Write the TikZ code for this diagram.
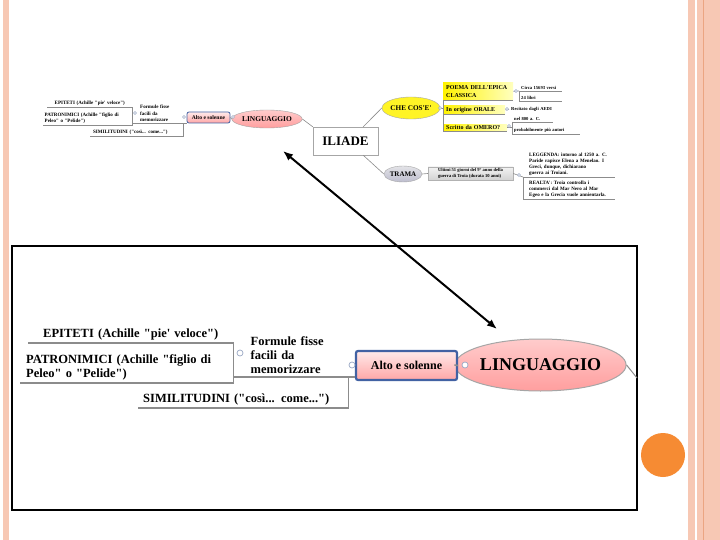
\documentclass[tikz,border=0pt]{standalone}
\usepackage{fontspec}
\setmainfont{Liberation Serif}[Ligatures=TeXOff]
\usetikzlibrary{
arrows.meta,
shapes.geometric,
shadows
}
\definecolor{folie_rosa}{HTML}{F7C8B4}
\definecolor{folie_linie}{HTML}{EBA582}
\definecolor{folie_orange}{HTML}{F68B33}
\definecolor{ast_grau}{HTML}{8C8C8C}
\definecolor{knopf_blau}{HTML}{9AA8C4}
\definecolor{rand_blau}{HTML}{4262A3}

\begin{document}
\begin{tikzpicture}
[x=1pt, y=-1pt,
leaf_big/.style ={anchor=south west, align=left, inner xsep=6pt, inner ysep=3pt, font=\fontsize{12.5}{14}\selectfont\bfseries},
leaf_small/.style ={anchor=south west, align=left, inner xsep=3pt, inner ysep=1.2pt, font=\fontsize{5}{6.5}\selectfont\bfseries},
leaf_tiny/.style ={leaf_small, inner xsep=2pt, font=\fontsize{4.6}{6}\selectfont\bfseries},
topic_yellow/.style ={leaf_small, font=\fontsize{6}{7.5}\selectfont\bfseries, left color=yellow!90!orange, right color=yellow!25},
box_alto/.style ={rectangle, draw=rand_blau, rounded corners=2, top color=red!8, bottom color=red!35, align=center},
ellipse_ling/.style ={ellipse, draw=gray!70, top color=red!20, bottom color=red!38, inner sep=0},
ellipse_che/.style ={ellipse, draw=gray!70, fill=yellow!85!white, inner sep=0},
ellipse_trama/.style ={ellipse, draw=gray!70, top color=blue!8!gray!20, bottom color=blue!15!gray!45, inner sep=0},
box_iliade/.style ={rectangle, draw=gray!70, fill=white, drop shadow={opacity=0.2, shadow xshift=1pt, shadow yshift=-1pt}},
box_trama/.style ={rectangle, draw=gray!60, top color=gray!10, bottom color=gray!35, align=left, inner sep=1.5pt, font=\fontsize{4.6}{5.8}\selectfont\bfseries},
toggle/.style ={circle, draw=knopf_blau, fill=white, inner sep=0, minimum size=6pt, line width=0.7pt},
toggle_small/.style ={toggle, minimum size=3pt, line width=0.4pt},
line_big/.style ={draw=ast_grau, line width=1.6pt},
line_small/.style ={draw=ast_grau, line width=0.6pt},
zoom_arrow/.style ={arrows={Latex[length=10pt,width=8pt]-Latex[length=10pt,width=8pt]}, line width=2pt}
]

\useasboundingbox (0,0) rectangle (720,540);

%%%Folie%%%%
\fill[white] (0,0) rectangle (720,540);
\fill[folie_rosa] (3,0) rectangle (9,540);
\fill[folie_rosa] (688,0) rectangle (720,540);
\fill[white] (694.5,0) rectangle (697,540);
\draw[folie_linie, line width=1pt] (703,0) -- (703,540);
\fill[folie_orange] (663,455) circle (22pt);

%%%kleine Mindmap%%%%
\node[box_iliade, minimum width=65pt, minimum height=28pt, font=\fontsize{13}{15}\selectfont\bfseries] (iliade) at (345.5,141) {ILIADE};
\node[ellipse_ling, minimum width=60pt, minimum height=18pt, font=\fontsize{7.4}{9}\selectfont\bfseries] (lingS) at (267,119) {LINGUAGGIO};
\node[box_alto, line width=0.8pt, minimum width=43pt, minimum height=11pt, inner sep=0, font=\fontsize{5.6}{7}\selectfont\bfseries] (altoS) at (208.5,117.5) {Alto e solenne};
\node[ellipse_che, minimum width=50pt, minimum height=22pt, font=\fontsize{7.2}{9}\selectfont\bfseries] (cheS) at (411,108) {CHE COS'E'};
\node[ellipse_trama, minimum width=38pt, minimum height=16pt, font=\fontsize{7}{9}\selectfont\bfseries] (tramaS) at (403,174) {TRAMA};

% links
\node[leaf_small, text width=79pt, align=center] (epiS) at (47,107) {EPITETI (Achille "pie' veloce")};
\node[leaf_small, inner xsep=1.5pt, text width=86pt] (patS) at (43,125) {PATRONIMICI (Achille "figlio di\\Peleo" o "Pelide")};
\node[leaf_small, inner xsep=8pt, text width=35pt] (formS) at (132,123) {Formule fisse\\facili da\\memorizzare};
\node[leaf_small, text width=87pt] (simiS) at (90,136) {SIMILITUDINI ("così... come...")};

% CHE COS'E'
\node[topic_yellow, text width=64pt, minimum height=17pt] (poema) at (443,100) {POEMA DELL'EPICA\\CLASSICA};
\node[topic_yellow, text width=56pt] (origine) at (443,114) {In origine ORALE};
\node[topic_yellow, text width=58pt] (scritto) at (443,131) {Scritto da OMERO?};
\node[leaf_tiny, text width=39pt] (versi) at (519,91) {Circa 15693 versi};
\node[leaf_tiny, text width=39pt] (libri) at (519,101) {24 libri};
\node[leaf_tiny, text width=48pt] (recit) at (509,113) {Recitato dagli AEDI};
\node[leaf_tiny, text width=37pt] (nel) at (512,122) {nel 800 a. C.};
\node[leaf_tiny, text width=64pt] (prob) at (512,134) {probabilmente più autori};

% TRAMA
\node[box_trama, minimum width=85pt, minimum height=13pt] (tramaBox) at (470.5,173.5) {Ultimi 51 giorni del 9° anno della\\guerra di Troia (durata 10 anni)};
\node[leaf_small, inner xsep=6pt, text width=80pt, font=\fontsize{5}{6}\selectfont\bfseries] (leg) at (523,177) {LEGGENDA: intorno al 1250 a. C.\\Paride rapisce Elena a Menelao. I\\Greci, dunque, dichiarano\\guerra ai Troiani.};
\node[leaf_small, inner xsep=6pt, text width=80pt, font=\fontsize{5}{6}\selectfont\bfseries] (rea) at (523,199) {REALTA': Troia controlla i\\commerci dal Mar Nero al Mar\\Egeo e la Grecia vuole annientarla.};

%%Linien klein%%%
\draw[line_small] (epiS.south west) -- (epiS.south east) -- (patS.south east) -- (patS.south west);
\draw[line_small] (formS.south west) -- (formS.south west -| altoS.west);
\draw[line_small] (simiS.south west) -- (simiS.south east) -- (formS.south east);
\draw[line_small] (altoS.east) -- (lingS.west);
\draw[line_small] (lingS.east) -- (iliade.north west);
\draw[line_small] ([xshift=-15pt]iliade.north east) -- (cheS.west);
\draw[line_small] ([xshift=-15pt]iliade.south east) -- (tramaS.west);
\draw[line_small] (tramaS.east) -- (tramaBox.west);
\draw[line_small] (cheS.east) -- (cheS.east -| poema.south west);
\draw[line_small] (poema.south west) -- (poema.south east);
\draw[line_small] (origine.south west) -- (origine.south east);
\draw[line_small] (scritto.south west) -- (scritto.south east);
\draw[line_small] (poema.south west) -- (scritto.south west);
\draw[line_small] (poema.east) -- (versi.south west);
\draw[line_small] (versi.south west) -- (versi.south east);
\draw[line_small] (libri.south west) -- (libri.south east);
\draw[line_small] (versi.south west) -- (libri.south west);
\draw[line_small] (origine.east) -- (recit.west);
\draw[line_small] (scritto.east) -- (scritto.east -| nel.south west);
\draw[line_small] (nel.south west) -- (nel.south east);
\draw[line_small] (prob.south west) -- (prob.south east);
\draw[line_small] (nel.south west) -- (prob.south west);
\draw[line_small] (tramaBox.east) -- (leg.south west);
\draw[line_small] (leg.south west) -- (leg.south east);
\draw[line_small] (rea.south west) -- (rea.south east);
\draw[line_small] (leg.south west) -- (rea.south west);

\node[toggle_small] (k1) at (135,113) {};
\node[toggle_small] (k2) at (184,117) {};
\node[toggle_small] (k3) at (233,117) {};
\node[toggle_small] (k4) at (440,108) {};
\node[toggle_small] (k5) at (516,91) {};
\node[toggle_small] (k6) at (507,109) {};
\node[toggle_small] (k7) at (509,126) {};
\node[toggle_small] (k8) at (519,175) {};

%%%grosse Mindmap%%%%
\draw[line width=2.6pt] (12,246) rectangle (637,510);

\node[ellipse_ling, line width=1pt, minimum width=139pt, minimum height=52pt, font=\fontsize{18}{20}\selectfont\bfseries] (lingB) at (540.5,365) {LINGUAGGIO};
\node[box_alto, line width=2.2pt, minimum width=101pt, minimum height=29pt, font=\fontsize{12}{14}\selectfont\bfseries] (altoB) at (406.5,365.5) {Alto e solenne};

\node[leaf_big, text width=193pt, align=center] (epi) at (28,343) {EPITETI (Achille "pie' veloce")};
\node[leaf_big, text width=201pt] (pat) at (20,383) {PATRONIMICI (Achille "figlio di\\Peleo" o "Pelide")};
\node[leaf_big, inner xsep=17.5pt, text width=80pt] (formule) at (233,377) {Formule fisse\\facili da\\memorizzare};
\node[leaf_big, inner xsep=5pt, text width=200pt] (simi) at (138,408) {SIMILITUDINI ("così... come...")};
\coordinate (schnitt) at (637,378);

%%Linien gross%%%
\draw[line_big] (epi.south west) -- (epi.south east) -- (pat.south east) -- (pat.south west);
\draw[line_big] (formule.south west) -- (formule.south west -| altoB.west);
\draw[line_big] (simi.south west) -- (simi.south east) -- (formule.south east);
\draw[line_big] (altoB.east) -- (lingB.west);
\draw[line_big, line width=1pt] (lingB.east) -- (schnitt);

\node[toggle] (b1) at (240,353) {};
\node[toggle] (b2) at (352,365) {};
\node[toggle] (b3) at (465,365) {};

%%Pfeile%%%
\coordinate (zoomA) at (283,151);
\coordinate (zoomB) at (497,329);
\draw[zoom_arrow] (zoomA) -- (zoomB);

\end{tikzpicture}
\end{document}
